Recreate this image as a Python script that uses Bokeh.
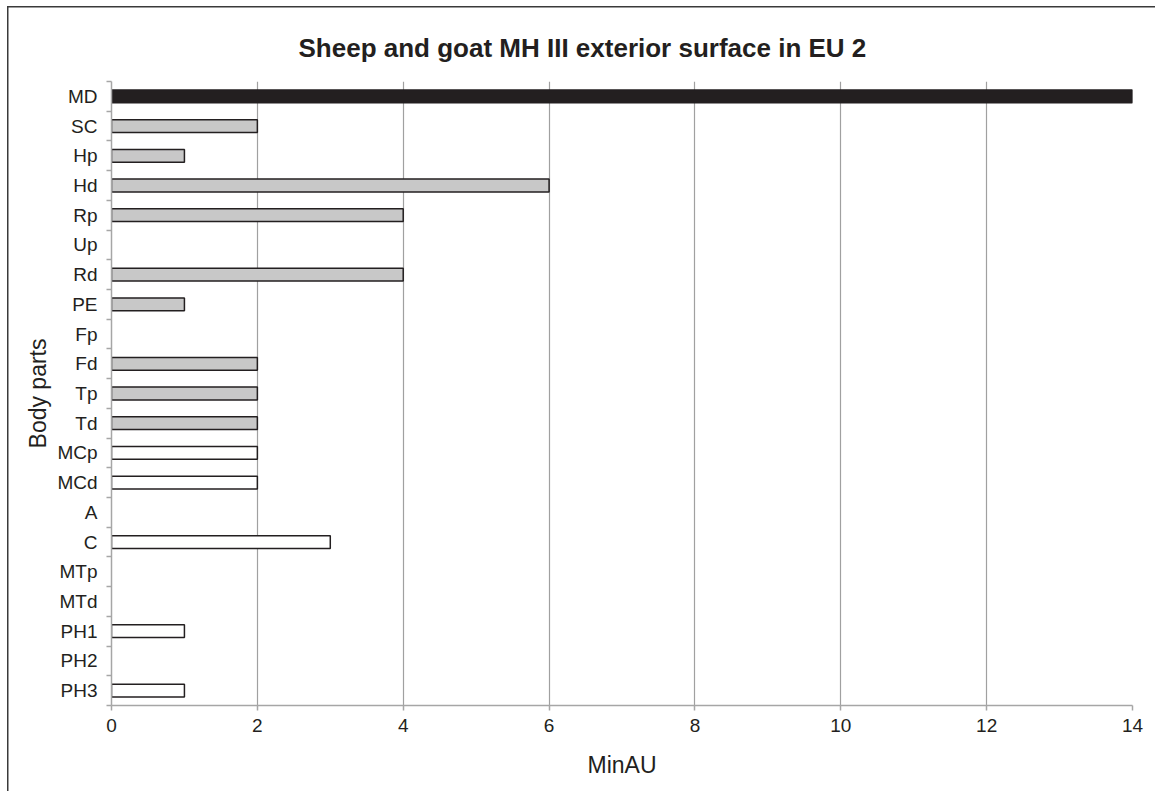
from bokeh.plotting import figure
from bokeh.models import ColumnDataSource, FixedTicker, Range1d
from bokeh.embed import file_html
from bokeh.resources import INLINE

categories = ["MD", "SC", "Hp", "Hd", "Rp", "Up", "Rd", "PE", "Fp", "Fd", "Tp",
              "Td", "MCp", "MCd", "A", "C", "MTp", "MTd", "PH1", "PH2", "PH3"]
values = [14, 2, 1, 6, 4, 0, 4, 1, 0, 2, 2, 2, 2, 2, 0, 3, 0, 0, 1, 0, 1]
groups = ["MD"] + ["grey"] * 11 + ["white"] * 9
x_ticks = [0, 2, 4, 6, 8, 10, 12, 14]

group_fill = {"MD": "#231f20", "grey": "#c8c8c8", "white": "#ffffff"}

n = len(categories)
pos = [n - 1 - i for i in range(n)]  # first category at top

keep = [i for i in range(n) if values[i] != 0]
src = ColumnDataSource(dict(
    y=[pos[i] for i in keep],
    v=[values[i] for i in keep],
    fill=[group_fill[groups[i]] for i in keep],
))

FONT = "Liberation Sans"
INK = "#231f20"
AXIS = "#a6a6a6"

p = figure(width=1155, height=791, output_backend="svg", toolbar_location=None,
           x_range=Range1d(0, 14), y_range=Range1d(-0.5, n - 0.5),
           min_border_left=111, min_border_right=23, min_border_top=81, min_border_bottom=86)
p.border_fill_color = None
p.styles = {
    "background": ("linear-gradient(#3a3a3a,#3a3a3a) 7px 6px / 1.5px 100% no-repeat, "
                   "linear-gradient(#3a3a3a,#3a3a3a) 7px 6px / 100% 1.5px no-repeat, white")
}

p.hbar(y="y", left=0, right="v", height=0.43, source=src, fill_color="fill",
       line_color=INK, line_width=1.5)

p.title.text = "Sheep and goat MH III exterior surface in EU 2"
p.title.align = "left"
p.title.offset = 187
p.title.standoff = 37
p.title.text_font = FONT
p.title.text_font_size = "26px"
p.title.text_font_style = "bold"
p.title.text_color = INK

p.outline_line_color = None
p.background_fill_color = "white"

# x axis
p.xaxis.ticker = FixedTicker(ticks=x_ticks)
p.xaxis.axis_label = "MinAU"
p.xaxis.axis_label_text_font = FONT
p.xaxis.axis_label_text_font_size = "23px"
p.xaxis.axis_label_text_font_style = "normal"
p.xaxis.axis_label_text_color = INK
p.xaxis.axis_label_standoff = 17
p.xaxis.major_label_text_font = FONT
p.xaxis.major_label_text_font_size = "19px"
p.xaxis.major_label_text_color = INK
p.xaxis.major_label_standoff = 8
p.xaxis.axis_line_color = AXIS
p.xaxis.axis_line_width = 1.5
p.xaxis.major_tick_line_color = AXIS
p.xaxis.major_tick_line_width = 1.5
p.xaxis.major_tick_in = 0
p.xaxis.major_tick_out = 5
p.xaxis.minor_tick_line_color = None

# y axis
p.yaxis.ticker = FixedTicker(ticks=pos, minor_ticks=[k - 0.5 for k in range(n + 1)])
p.yaxis.major_label_overrides = {pos[i]: categories[i] for i in range(n)}
p.yaxis.axis_label = "Body parts"
p.yaxis.axis_label_text_font = FONT
p.yaxis.axis_label_text_font_size = "23px"
p.yaxis.axis_label_text_font_style = "normal"
p.yaxis.axis_label_text_color = INK
p.yaxis.axis_label_standoff = 3
p.yaxis.major_label_text_font = FONT
p.yaxis.major_label_text_font_size = "19px"
p.yaxis.major_label_text_color = INK
p.yaxis.major_label_standoff = 9
p.yaxis.axis_line_color = AXIS
p.yaxis.axis_line_width = 1.5
p.yaxis.major_tick_line_color = None
p.yaxis.major_tick_in = 0
p.yaxis.major_tick_out = 0
p.yaxis.minor_tick_line_color = AXIS
p.yaxis.minor_tick_line_width = 1.5
p.yaxis.minor_tick_in = 0
p.yaxis.minor_tick_out = 5

p.xgrid.ticker = FixedTicker(ticks=x_ticks)
p.xgrid.grid_line_color = "#a0a0a0"
p.xgrid.grid_line_width = 1.2
p.ygrid.grid_line_color = None

open("out.html", "w").write(file_html(p, INLINE))
